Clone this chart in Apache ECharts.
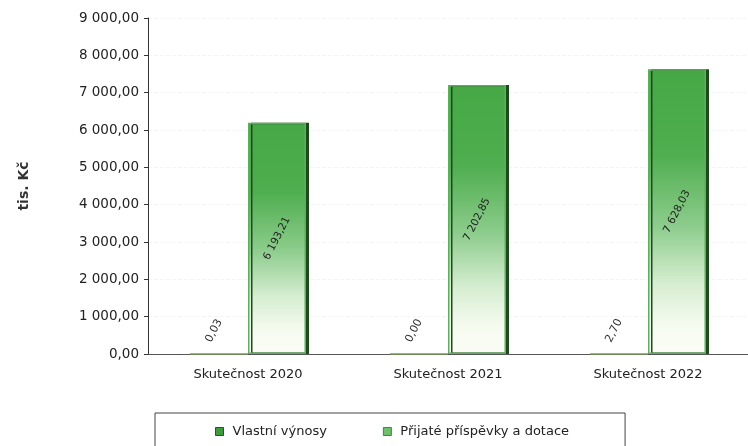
<!DOCTYPE html>
<html><head><meta charset="utf-8">
<script src="https://cdn.jsdelivr.net/npm/echarts@6/dist/echarts.min.js"></script>
<style>html,body{margin:0;padding:0;background:#fff}#c{width:748px;height:446px}</style>
</head><body><div id="c"></div>
<script>
var categories = ['Skutečnost 2020', 'Skutečnost 2021', 'Skutečnost 2022'];
var vlastniVynosy = [0.03, 0.00, 2.70];
var prijatePrispevky = [6193.21, 7202.85, 7628.03];
var seriesNames = ['Vlastní výnosy', 'Přijaté příspěvky a dotace'];
var yTicks = { min: 0, max: 9000, interval: 1000 };

function fmt(v) {
  var s = v.toFixed(2).split('.');
  var i = s[0].replace(/\B(?=(\d{3})+(?!\d))/g, ' ');
  return i + ',' + s[1];
}

var chart = echarts.init(document.getElementById('c'));
var font = 'DejaVu Sans, sans-serif';
chart.setOption({
  animation: false,
  textStyle: { fontFamily: font },
  grid: { left: 148, top: 18, width: 606, bottom: 92, containLabel: false },
  legend: {
    left: 155, top: 413,
    padding: [12, 56, 16, 60],
    borderColor: '#444', borderWidth: 1,
    itemWidth: 8, itemHeight: 8, itemGap: 56, icon: 'rect',
    textStyle: { fontFamily: font, fontSize: 13, color: '#222', padding: [0, 0, 0, 4] },
    data: [
      { name: seriesNames[0], itemStyle: { color: '#3f9a3f', borderColor: '#1d5a1d', borderWidth: 1 } },
      { name: seriesNames[1], itemStyle: { color: '#6cc06c', borderColor: '#3a8a3a', borderWidth: 1 } }
    ]
  },
  xAxis: {
    type: 'category', data: categories,
    axisLine: { lineStyle: { color: '#555' } },
    axisTick: { show: false },
    axisLabel: { fontSize: 13, color: '#222', margin: 14, fontFamily: font }
  },
  yAxis: {
    type: 'value', min: yTicks.min, max: yTicks.max, interval: yTicks.interval,
    name: 'tis. Kč', nameLocation: 'middle', nameGap: 117, nameRotate: 90,
    nameTextStyle: { fontSize: 14, fontWeight: 'bold', color: '#333', fontFamily: font },
    axisLine: { show: true, lineStyle: { color: '#333' } },
    axisTick: { show: true, length: 4, lineStyle: { color: '#333' } },
    axisLabel: { fontSize: 13.5, color: '#222', margin: 9, fontFamily: font, formatter: function (v) { return fmt(v); } },
    splitLine: { show: true, lineStyle: { color: '#f4f4f4', type: 'dashed' } }
  },
  series: [
    {
      name: seriesNames[0], type: 'bar', data: vlastniVynosy,
      barWidth: 58, barGap: '0%',
      itemStyle: { color: '#7a9a5a', borderColor: '#7a9a5a', borderWidth: 1.5 },
      label: {
        show: true, position: 'top', rotate: 63, distance: 20,
        fontSize: 11, color: '#333', fontFamily: font,
        formatter: function (p) { return fmt(p.value); }
      }
    },
    {
      name: seriesNames[1], type: 'bar', data: prijatePrispevky,
      barWidth: 58,
      itemStyle: {
        color: {
          type: 'linear', x: 0, y: 0, x2: 0, y2: 1,
          colorStops: [
            { offset: 0, color: '#45a845' },
            { offset: 0.3, color: '#4fae4f' },
            { offset: 0.55, color: '#8ccc8c' },
            { offset: 0.75, color: '#d5edd0' },
            { offset: 0.9, color: '#f6fbf0' },
            { offset: 1, color: '#fbfdf6' }
          ]
        },
        borderColor: '#5fae5f', borderWidth: 1.5,
        shadowColor: '#1e4a1e', shadowOffsetX: 3, shadowOffsetY: 0, shadowBlur: 0
      },
      label: {
        show: true, position: 'inside', rotate: 63,
        fontSize: 10.5, color: '#222', fontFamily: font,
        formatter: function (p) { return fmt(p.value); }
      }
    }
  ]
});
</script></body></html>
